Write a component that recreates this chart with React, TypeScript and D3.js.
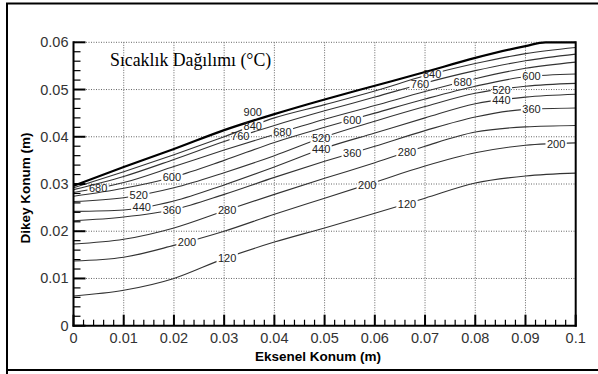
import React from 'react';
import * as d3 from 'd3';

// ---- data ----
const xPositions = [0, 0.01, 0.02, 0.03, 0.04, 0.05, 0.06, 0.07, 0.08, 0.09, 0.1];
const contourLevels = [120, 200, 280, 360, 440, 520, 600, 680, 760, 840];

const contour120 = [0.0063, 0.0075, 0.0100, 0.0142, 0.0177, 0.0207, 0.0238, 0.0270, 0.0302, 0.0317, 0.0323];
const contour200 = [0.0137, 0.0145, 0.0170, 0.0200, 0.0236, 0.0270, 0.0304, 0.0338, 0.0366, 0.0382, 0.0387];
const contour280 = [0.0173, 0.0183, 0.0207, 0.0243, 0.0278, 0.0312, 0.0345, 0.0380, 0.0410, 0.0421, 0.0424];
const contour360 = [0.0222, 0.0230, 0.0246, 0.0278, 0.0314, 0.0348, 0.0380, 0.0413, 0.0442, 0.0458, 0.0461];
const contour440 = [0.0242, 0.0245, 0.0264, 0.0298, 0.0336, 0.0376, 0.0408, 0.0440, 0.0470, 0.0484, 0.0490];
const contour520 = [0.0263, 0.0271, 0.0292, 0.0324, 0.0360, 0.0400, 0.0433, 0.0464, 0.0492, 0.0507, 0.0513];
const contour600 = [0.0274, 0.0291, 0.0315, 0.0350, 0.0388, 0.0420, 0.0450, 0.0480, 0.0507, 0.0527, 0.0533];
const contour680 = [0.0282, 0.0303, 0.0337, 0.0372, 0.0405, 0.0437, 0.0466, 0.0496, 0.0523, 0.0545, 0.0558];
const contour760 = [0.0288, 0.0316, 0.0352, 0.0390, 0.0424, 0.0455, 0.0484, 0.0514, 0.0540, 0.0561, 0.0575];
const contour840 = [0.0292, 0.0326, 0.0362, 0.0400, 0.0440, 0.0468, 0.0497, 0.0529, 0.0555, 0.0576, 0.0589];

const boundaryLevel = 900;
const boundaryX = [0, 0.01, 0.02, 0.03, 0.04, 0.05, 0.06, 0.07, 0.08, 0.09, 0.094, 0.1];
const boundaryY = [0.0296, 0.0336, 0.0374, 0.0414, 0.0448, 0.0479, 0.0508, 0.0537, 0.0567, 0.0592, 0.0600, 0.0600];

const labelAt120 = [0.0306, 0.0664];
const labelAt200 = [0.0226, 0.0585, 0.0961];
const labelAt280 = [0.0306, 0.0664];
const labelAt360 = [0.0196, 0.0555, 0.0912];
const labelAt440 = [0.0136, 0.0493, 0.0852];
const labelAt520 = [0.0130, 0.0493, 0.0852];
const labelAt600 = [0.0196, 0.0555, 0.0912];
const labelAt680 = [0.0049, 0.0416, 0.0775];
const labelAt760 = [0.0332, 0.0690];
const labelAt840 = [0.0357, 0.0714];
const labelAtBoundary = [0.0357];

const xTickValues = [0, 0.01, 0.02, 0.03, 0.04, 0.05, 0.06, 0.07, 0.08, 0.09, 0.1];
const yTickValues = [0, 0.01, 0.02, 0.03, 0.04, 0.05, 0.06];

const chartTitle = 'Sıcaklık Dağılımı (°C)';
const xAxisTitle = 'Eksenel Konum (m)';
const yAxisTitle = 'Dikey Konum (m)';

// ---- layout ----
const W = 598;
const H = 374;
const PL = 73.5, PR = 575.7, PT = 42.3, PB = 325.7;
const SANS = '"Liberation Sans", Arial, sans-serif';
const SERIF = '"Liberation Serif", "Times New Roman", serif';

const contourRows = [contour120, contour200, contour280, contour360, contour440, contour520, contour600, contour680, contour760, contour840];
const labelRows = [labelAt120, labelAt200, labelAt280, labelAt360, labelAt440, labelAt520, labelAt600, labelAt680, labelAt760, labelAt840];

function interp(xsArr: number[], ysArr: number[], xv: number) {
  for (let i = 0; i < xsArr.length - 1; i++) {
    if (xv >= xsArr[i] && xv <= xsArr[i + 1]) {
      const t = (xv - xsArr[i]) / (xsArr[i + 1] - xsArr[i]);
      return ysArr[i] + t * (ysArr[i + 1] - ysArr[i]);
    }
  }
  return ysArr[ysArr.length - 1];
}

const fmt = (v: number) => String(+v.toFixed(3));

export default function App() {
  const x = d3.scaleLinear().domain([0, 0.1]).range([PL, PR]);
  const y = d3.scaleLinear().domain([0, 0.06]).range([PB, PT]);
  const line = d3
    .line<[number, number]>()
    .x((d) => x(d[0]))
    .y((d) => y(d[1]))
    .curve(d3.curveMonotoneX);

  const xMinor = d3.range(0, 0.1 + 1e-9, 0.002).filter((v) => Math.abs(v / 0.01 - Math.round(v / 0.01)) > 1e-6);
  const yMinor = d3.range(0, 0.06 + 1e-9, 0.002).filter((v) => Math.abs(v / 0.01 - Math.round(v / 0.01)) > 1e-6);

  const labelFont = 11;
  const digitW = 6.1;

  return (
    <svg width={W} height={H} style={{ position: 'absolute', left: 0, top: 0, background: '#fff' }}>
      <rect x={0} y={0} width={W} height={H} fill="#fff" />
      {/* outer frame */}
      <path d={`M7,${H + 2} L7,3.5 L${W + 2},3.5`} fill="none" stroke="#000" strokeWidth={2} />
      <line x1={7} x2={W + 2} y1={370} y2={370} stroke="#000" strokeWidth={2} />

      <defs>
        {contourLevels.map((lv, i) => (
          <mask id={`m${lv}`} key={lv} maskUnits="userSpaceOnUse" x={0} y={0} width={W} height={H}>
            <rect x={0} y={0} width={W} height={H} fill="#fff" />
            {labelRows[i].map((lx, j) => {
              const w = String(lv).length * digitW + 3;
              return (
                <rect
                  key={j}
                  x={x(lx) - w / 2}
                  y={y(interp(xPositions, contourRows[i], lx)) - 5}
                  width={w}
                  height={10}
                  fill="#000"
                />
              );
            })}
          </mask>
        ))}
        <clipPath id="plotclip">
          <rect x={PL} y={PT - 2} width={PR - PL} height={PB - PT + 2} />
        </clipPath>
      </defs>

      {/* grid */}
      <g stroke="#666" strokeWidth={1} strokeDasharray="1 1.5">
        {xTickValues.slice(1, -1).map((v) => (
          <line key={`gx${v}`} x1={x(v)} x2={x(v)} y1={PT} y2={PB} />
        ))}
        {yTickValues.slice(1).map((v) => (
          <line key={`gy${v}`} x1={PL} x2={PR} y1={y(v)} y2={y(v)} />
        ))}
      </g>

      {/* contours */}
      <g clipPath="url(#plotclip)">
        {contourLevels.map((lv, i) => (
          <path
            key={lv}
            d={line(xPositions.map((xv, k) => [xv, contourRows[i][k]] as [number, number])) || ''}
            fill="none"
            stroke="#333"
            strokeWidth={1.1}
            mask={`url(#m${lv})`}
          />
        ))}
        <path
          d={line(boundaryX.map((xv, k) => [xv, boundaryY[k]] as [number, number])) || ''}
          fill="none"
          stroke="#000"
          strokeWidth={2.2}
        />
      </g>

      {/* contour labels */}
      <g fontFamily={SANS} fontSize={labelFont} fill="#222" textAnchor="middle">
        {contourLevels.map((lv, i) =>
          labelRows[i].map((lx, j) => (
            <text key={`${lv}-${j}`} x={x(lx)} y={y(interp(xPositions, contourRows[i], lx)) + 4}>
              {lv}
            </text>
          ))
        )}
        {labelAtBoundary.map((lx, j) => (
          <text key={`b${j}`} x={x(lx)} y={y(interp(boundaryX, boundaryY, lx)) - 5}>
            {boundaryLevel}
          </text>
        ))}
      </g>

      {/* axes lines */}
      <line x1={PL} x2={PL} y1={PT - 1} y2={PB + 1} stroke="#000" strokeWidth={2} />
      <line x1={PL - 1} x2={PR + 1} y1={PB} y2={PB} stroke="#000" strokeWidth={2} />
      <line x1={PR} x2={PR} y1={PT - 1} y2={PB + 1} stroke="#000" strokeWidth={2} />

      {/* ticks */}
      <g stroke="#000">
        {xTickValues.map((v) => (
          <line key={`tx${v}`} x1={x(v)} x2={x(v)} y1={PB} y2={PB - 11} strokeWidth={2} />
        ))}
        {xMinor.map((v) => (
          <line key={`mx${v}`} x1={x(v)} x2={x(v)} y1={PB} y2={PB - 6} strokeWidth={1.2} />
        ))}
        {yTickValues.map((v) => (
          <line key={`ty${v}`} x1={PL} x2={PL + 12} y1={y(v)} y2={y(v)} strokeWidth={2} />
        ))}
        {yMinor.map((v) => (
          <line key={`my${v}`} x1={PL} x2={PL + 7} y1={y(v)} y2={y(v)} strokeWidth={1.2} />
        ))}
      </g>

      {/* tick labels */}
      <g fontFamily={SANS} fontSize={14.5} fill="#333">
        {xTickValues.map((v) => (
          <text key={`lx${v}`} x={x(v)} y={343} textAnchor="middle">
            {fmt(v)}
          </text>
        ))}
        {yTickValues.map((v) => (
          <text key={`ly${v}`} x={PL - 5} y={y(v) + 5} textAnchor="end">
            {fmt(v)}
          </text>
        ))}
      </g>

      {/* titles */}
      <text x={110} y={66} fontFamily={SERIF} fontSize={17.8} fill="#000">
        {chartTitle}
      </text>
      <text x={318} y={361} fontFamily={SANS} fontSize={13.5} fontWeight="bold" textAnchor="middle" fill="#000">
        {xAxisTitle}
      </text>
      <text
        transform={`translate(30,188) rotate(-90)`}
        fontFamily={SANS}
        fontSize={13.5}
        fontWeight="bold"
        textAnchor="middle"
        fill="#000"
      >
        {yAxisTitle}
      </text>
    </svg>
  );
}
